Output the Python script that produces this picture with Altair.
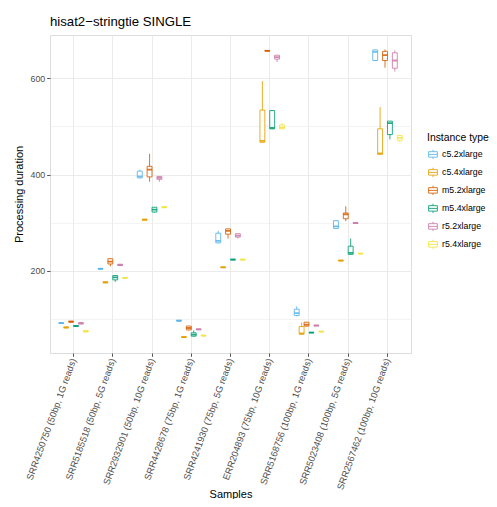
import altair as alt
import pandas as pd

samples = [
    "SRR4250750 (50bp, 1G reads)",
    "SRR5185518 (50bp, 5G reads)",
    "SRR2932901 (50bp, 10G reads)",
    "SRR4428678 (75bp, 1G reads)",
    "SRR4241930 (75bp, 5G reads)",
    "ERR204893 (75bp, 10G reads)",
    "SRR5168756 (100bp, 1G reads)",
    "SRR5023408 (100bp, 5G reads)",
    "SRR2567462 (100bp, 10G reads)",
]
instances = ["c5.2xlarge", "c5.4xlarge", "m5.2xlarge", "m5.4xlarge", "r5.2xlarge", "r5.4xlarge"]
colors = ["#56B4E9", "#E69F00", "#D55E00", "#009E73", "#CC79A7", "#F0E442"]

# per sample: values for the six instance types (None = no runs)
box_min = [
    [90, 81, 93, 84, 89, 72],
    [203, 174, 209, 177, 210, 184],
    [392, 305, 385, 321, 385, 331],
    [95, 61, 76, 63, 77, 64],
    [257, 206, 267, 222, 267, 222],
    [None, 466, 656, 494, 634, 495],
    [105, 67, 84, 70.5, 85, 72.5],
    [287, 220, 303, 233, 298, 235],
    [636, 441, 622, 473, 614, 468],
]
box_q1 = [
    [90.5, 81.5, 93.5, 84.5, 89.5, 73],
    [203.5, 175, 214, 181, 211, 184.5],
    [393, 305.5, 395, 322, 390, 331.5],
    [95.5, 61.5, 77, 64, 77.5, 64.5],
    [258, 206.5, 276, 222.5, 270, 222.5],
    [None, 467, 656.5, 495, 640, 495],
    [107, 68, 85, 71, 85.5, 73],
    [288, 220.5, 308, 234, 298.5, 235.2],
    [637, 442, 637, 483, 621, 471],
]
box_median = [
    [91, 82, 94, 85, 90.5, 74],
    [204, 176, 219, 186, 212, 185],
    [396, 306, 410, 327, 393, 332],
    [96, 62, 81, 67, 78, 65],
    [262, 207, 283, 223, 273, 223],
    [None, 470, 657, 497, 644, 498],
    [112, 70, 88, 71.5, 86, 73.5],
    [292, 221, 317, 237, 299, 235.5],
    [655, 444, 648, 507, 637, 476],
]
box_q3 = [
    [92, 83, 95, 86, 92, 75.5],
    [205, 177, 225, 190, 213.5, 186],
    [407, 307, 417, 332, 396, 333],
    [97, 63, 85, 71, 79, 66],
    [278, 208, 287, 224, 277, 224],
    [None, 534, 658, 533, 648, 503],
    [120, 84, 93, 72, 87, 74],
    [304, 222, 320, 251, 300, 236],
    [659, 495, 656, 511, 653, 481],
]
box_max = [
    [92, 83, 95, 86, 93, 76],
    [205, 178, 226, 190, 214, 186],
    [410, 307, 443, 332, 396, 333],
    [97, 63, 85, 76, 79, 66],
    [283, 208, 288, 224, 277, 224],
    [None, 594, 658, 533, 648, 507],
    [126, 92, 93, 72.5, 87, 74.5],
    [305, 222, 334, 267, 300, 236],
    [660, 540, 660, 511, 658, 481],
]

rows = []
for i, s in enumerate(samples):
    for j, inst in enumerate(instances):
        if box_median[i][j] is None:
            continue
        rows.append({
            "sample": s, "instance": inst,
            "lo": box_min[i][j], "q1": box_q1[i][j], "med": box_median[i][j],
            "q3": box_q3[i][j], "hi": box_max[i][j],
        })
df = pd.DataFrame(rows)

font = "Liberation Sans"
box_path = "M-0.8,-0.5H0.8V0.5H-0.8Z M-0.8,0H0.8 M0,-0.5V-0.85 M0,0.5V0.85"

x_enc = alt.X(
    "sample:N", sort=samples, title="Samples",
    scale=alt.Scale(paddingInner=0, paddingOuter=0.1),
    axis=alt.Axis(
        labelAngle=290, labelAlign="right", labelBaseline="middle",
        labelFontSize=9.3, labelColor="#4D4D4D", labelPadding=2,
        tickSize=3.3, tickColor="#555555", bandPosition=0.5,
        grid=True, gridColor="#EBEBEB", gridWidth=1, domain=False,
        titleFontSize=11, titleFontWeight="normal", titleColor="black",
        titleY=144, titleBaseline="alphabetic",
        labelFont=font, titleFont=font,
    ),
)
xo_enc = alt.XOffset("instance:N", sort=instances,
                     scale=alt.Scale(paddingInner=0, paddingOuter=1))
y_scale = alt.Scale(domain=[29, 690], nice=False, zero=False)
y_axis = alt.Axis(
    values=[100, 200, 300, 400, 500, 600],
    labelExpr="datum.value % 200 === 0 ? datum.label : ''",
    tickOpacity={"condition": {"test": "datum.value % 200 === 0", "value": 1}, "value": 0},
    gridWidth={"condition": {"test": "datum.value % 200 === 0", "value": 1}, "value": 0.6},
    gridColor="#EBEBEB", grid=True, domain=False,
    tickSize=3.3, tickColor="#555555", labelFontSize=8.8, labelColor="#4D4D4D", labelPadding=2,
    title="Processing duration", titleFontSize=11, titleFontWeight="normal", titleColor="black",
    titlePadding=6, labelFont=font, titleFont=font,
)
stroke_enc = alt.Stroke(
    "instance:N", sort=instances,
    scale=alt.Scale(domain=instances, range=colors),
    legend=alt.Legend(
        title="Instance type", orient="none", legendX=377, legendY=98,
        symbolType=box_path, symbolSize=120, symbolStrokeWidth=1,
        symbolFillColor="white", symbolOpacity=0.85,
        labelFontSize=8.8, labelColor="black", labelFont=font, labelOffset=3,
        titleFontSize=10.4, titleFontWeight="normal", titleColor="black", titleFont=font,
        titlePadding=5, rowPadding=4, padding=0,
    ),
)

base = alt.Chart(df)
whisker = base.mark_rule(strokeWidth=1, strokeOpacity=0.85).encode(
    x=x_enc, xOffset=xo_enc,
    y=alt.Y("lo:Q", scale=y_scale, axis=y_axis), y2="hi:Q",
    stroke=stroke_enc,
)
box = base.mark_bar(fill="white", fillOpacity=1, strokeWidth=1, strokeOpacity=0.85).encode(
    x=x_enc, xOffset=xo_enc,
    y=alt.Y("q1:Q", scale=y_scale, axis=y_axis), y2="q3:Q",
    stroke=stroke_enc,
)
median = base.mark_bar(fill="white", fillOpacity=0, strokeWidth=1.8, strokeOpacity=0.85).encode(
    x=x_enc, xOffset=xo_enc,
    y=alt.Y("med:Q", scale=y_scale, axis=y_axis), y2="med:Q",
    stroke=stroke_enc,
)

chart = (
    alt.layer(whisker, box, median)
    .properties(
        width=361, height=318,
        title=alt.Title("hisat2\u2212stringtie SINGLE", anchor="start", frame="group",
                        fontSize=13.2, fontWeight="normal", color="black", font=font, offset=6),
        padding={"left": 42, "top": 27, "right": 78, "bottom": 146},
        autosize=alt.AutoSizeParams(type="none"),
    )
    .configure_view(stroke="#555555", strokeWidth=1)
    .configure(background="white")
)

chart.save("out.html", embed_options={"renderer": "svg", "actions": False})
